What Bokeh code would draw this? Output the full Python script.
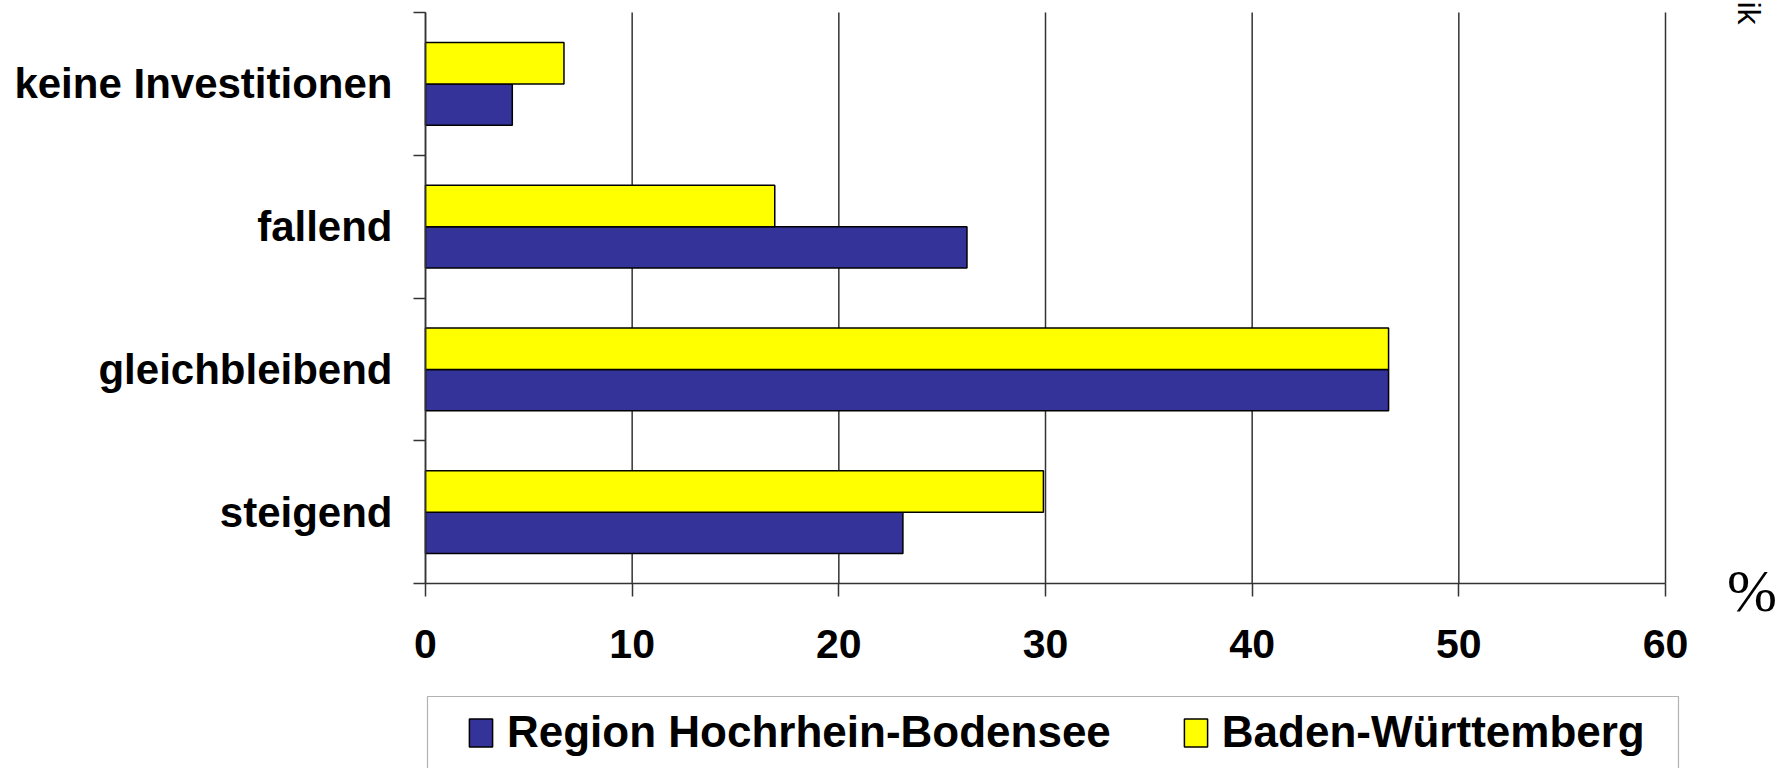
import math
from bokeh.plotting import figure
from bokeh.models import (ColumnDataSource, Range1d, FixedTicker, Legend, LegendItem, Label,
                          BoxAnnotation)
from bokeh.transform import dodge
from bokeh.embed import file_html
from bokeh.resources import INLINE

categories = ["steigend", "gleichbleibend", "fallend", "keine Investitionen"]
region_values = [23.1, 46.6, 26.2, 4.2]
bw_values = [29.9, 46.6, 16.9, 6.7]
x_ticks = [0, 10, 20, 30, 40, 50, 60]
series_names = ["Region Hochrhein-Bodensee", "Baden-Württemberg"]

W, H = 1784, 768
# pixel geometry of the plotting area inside the canvas
X0_PX, X60_PX = 425, 1665
YTOP_PX, YBOT_PX = 12, 583
ppx = (X60_PX - X0_PX) / 60.0
ppy = (YBOT_PX - YTOP_PX) / len(categories)


def dx(px):
    return (px - X0_PX) / ppx


def dy(py):
    return (YBOT_PX - py) / ppy


pos = [i + 0.5 for i in range(len(categories))]
src = ColumnDataSource(dict(y=pos, region=region_values, bw=bw_values, cat=categories))
grid_src = ColumnDataSource(dict(x=x_ticks))

FONT = "Liberation Sans"
p = figure(width=W, height=H, output_backend="svg", toolbar_location=None,
           x_range=Range1d(dx(0), dx(W)), y_range=Range1d(dy(H), dy(0)),
           min_border=0, min_border_left=0, min_border_right=0,
           min_border_top=0, min_border_bottom=0)
p.outline_line_color = None
p.background_fill_color = "white"
p.border_fill_color = "white"
p.grid.visible = False

# vertical grid lines (at the x ticks, spanning the category area)
p.segment(x0="x", x1="x", y0=0, y1=len(categories), source=grid_src,
          line_color="#333333", line_width=1.5)

r_blue = p.hbar(y=dodge("y", -0.145, range=p.y_range), right="region", left=0, height=0.29,
                source=src, fill_color="#333399", line_color="black", line_width=1.5)
r_yel = p.hbar(y=dodge("y", 0.145, range=p.y_range), right="bw", left=0, height=0.29,
               source=src, fill_color="#FFFF00", line_color="black", line_width=1.5)

# x axis
xa = p.xaxis[0]
xa.fixed_location = 0
xa.bounds = (0, 60)
xa.ticker = FixedTicker(ticks=x_ticks)
xa.axis_line_color = "#333333"
xa.axis_line_width = 1.5
xa.major_tick_line_color = "#333333"
xa.major_tick_line_width = 1.5
xa.major_tick_out = 13
xa.major_tick_in = 0
xa.minor_tick_line_color = None
xa.minor_tick_out = 0
xa.major_label_text_font = FONT
xa.major_label_text_font_style = "bold"
xa.major_label_text_font_size = "41px"
xa.major_label_text_color = "black"
xa.major_label_standoff = 33

# y axis: labels at category centres, ticks at category boundaries
ya = p.yaxis[0]
ya.fixed_location = 0
ya.bounds = (0, len(categories))
ya.ticker = FixedTicker(ticks=pos, minor_ticks=list(range(len(categories) + 1)))
ya.major_label_overrides = {pp: c for pp, c in zip(pos, categories)}
ya.axis_line_color = "#333333"
ya.axis_line_width = 1.5
ya.major_tick_line_color = None
ya.major_tick_out = 0
ya.major_tick_in = 0
ya.minor_tick_line_color = "#333333"
ya.minor_tick_line_width = 1.5
ya.minor_tick_out = 12
ya.minor_tick_in = 0
ya.major_label_text_font = FONT
ya.major_label_text_font_style = "bold"
ya.major_label_text_font_size = "42px"
ya.major_label_text_color = "black"
ya.major_label_standoff = 21

# legend frame (box outline, cut by the bottom edge as in the original)
p.add_layout(BoxAnnotation(left=dx(427), right=dx(1678), top=dy(696), bottom=dy(790),
                           fill_color=None, line_color="black", line_width=1.2))

legend = Legend(items=[LegendItem(label=series_names[0], renderers=[r_blue]),
                       LegendItem(label=series_names[1], renderers=[r_yel])],
                orientation="horizontal", location=(466, 11), margin=0, padding=10,
                spacing=70, label_standoff=12, glyph_width=29, glyph_height=35,
                label_text_font=FONT, label_text_font_style="bold",
                label_text_font_size="44px", label_text_color="black",
                border_line_color=None, background_fill_alpha=0.0)
p.add_layout(legend, "center")

pct = Label(x=dx(1751.5), y=dy(590), text="%",
            text_font="Liberation Serif", text_font_size="60px",
            text_align="center", text_baseline="alphabetic", text_color="black")
p.add_layout(pct)

ik = Label(x=dx(1748), y=dy(24), text="ik", text_font=FONT,
           text_font_size="32px", angle=-math.pi / 2, text_align="right",
           text_baseline="alphabetic", text_color="black")
p.add_layout(ik)

open("out.html", "w").write(file_html(p, INLINE))
